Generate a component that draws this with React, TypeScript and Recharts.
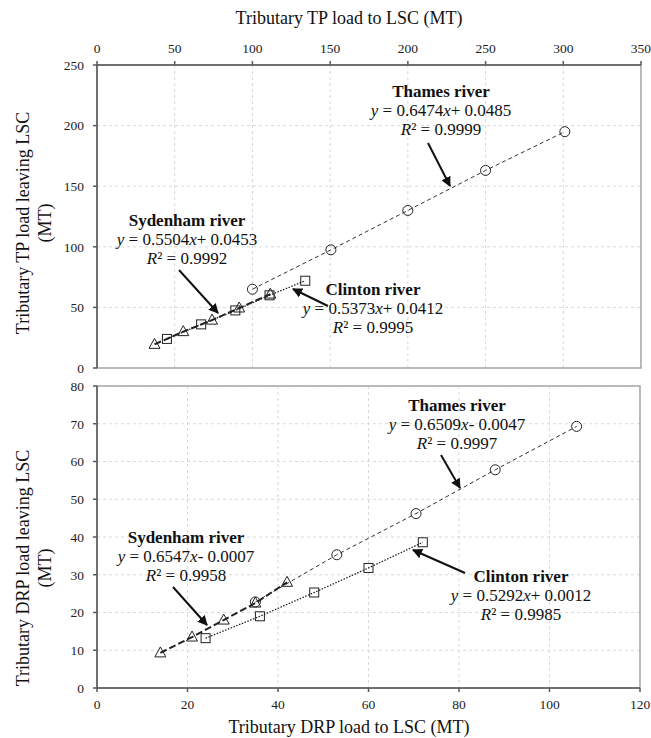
import React from "react";
import {
  CartesianGrid,
  ReferenceArea,
  Scatter,
  ScatterChart,
  XAxis,
  YAxis,
} from "recharts";

// TP loads (MT): x = load to LSC, y = load leaving LSC
const tpThames = [
  { x: 100, y: 65 },
  { x: 150.5, y: 97.5 },
  { x: 200, y: 130 },
  { x: 250, y: 163 },
  { x: 301, y: 195 },
];
const tpClinton = [
  { x: 45, y: 24 },
  { x: 67, y: 36 },
  { x: 89, y: 47.5 },
  { x: 111, y: 60 },
  { x: 134, y: 72 },
];
const tpSydenham = [
  { x: 37, y: 19.5 },
  { x: 55.5, y: 30 },
  { x: 74, y: 39.5 },
  { x: 91.5, y: 49.5 },
  { x: 111.5, y: 61 },
];

// DRP loads (MT)
const drpThames = [
  { x: 35, y: 22.8 },
  { x: 53, y: 35.3 },
  { x: 70.5, y: 46.2 },
  { x: 88, y: 57.8 },
  { x: 106, y: 69.3 },
];
const drpClinton = [
  { x: 24, y: 13.2 },
  { x: 36, y: 19 },
  { x: 48, y: 25.3 },
  { x: 60, y: 31.8 },
  { x: 72, y: 38.6 },
];
const drpSydenham = [
  { x: 14, y: 9.3 },
  { x: 21, y: 13.5 },
  { x: 28, y: 18 },
  { x: 35, y: 22.5 },
  { x: 42, y: 28 },
];

const tpXTicks = [0, 50, 100, 150, 200, 250, 300, 350];
const tpYTicks = [0, 50, 100, 150, 200, 250];
const drpXTicks = [0, 20, 40, 60, 80, 100, 120];
const drpYTicks = [0, 10, 20, 30, 40, 50, 60, 70, 80];

const FONT = "Liberation Serif, Times New Roman, serif";
const MARK = "#222";
const AXIS = "#595959";
const tick = { fontSize: 13.5, fill: "#222", fontFamily: FONT, style: { fontFamily: FONT } };

const Circle = (p: any) => (
  <circle cx={p.cx} cy={p.cy} r={5} fill="none" stroke={MARK} strokeWidth={1} />
);
const Square = (p: any) => (
  <rect x={p.cx - 4.5} y={p.cy - 4.5} width={9} height={9} fill="none" stroke={MARK} strokeWidth={1} />
);
const Triangle = (p: any) => (
  <polygon
    points={`${p.cx},${p.cy - 6} ${p.cx - 5.5},${p.cy + 4} ${p.cx + 5.5},${p.cy + 4}`}
    fill="none"
    stroke={MARK}
    strokeWidth={1}
  />
);

const thamesLine = { stroke: "#333", strokeWidth: 1, strokeDasharray: "4 3" };
const clintonLine = { stroke: "#222", strokeWidth: 1.3, strokeDasharray: "1.5 1.5" };
const sydenhamLine = { stroke: "#222", strokeWidth: 2, strokeDasharray: "7 3" };

function Annotation({
  x,
  y,
  title,
  slope,
  icpt,
  r2,
}: {
  x: number;
  y: number;
  title: string;
  slope: string;
  icpt: string;
  r2: string;
}) {
  return (
    <g style={{ fontFamily: FONT }} fontSize={17} fill="#111" textAnchor="middle">
      <text x={x} y={y} dominantBaseline="central" fontWeight="bold">
        {title}
      </text>
      <text x={x} y={y + 19} dominantBaseline="central">
        <tspan fontStyle="italic">y</tspan> = {slope}
        <tspan fontStyle="italic">x</tspan>
        {icpt}
      </text>
      <text x={x} y={y + 38} dominantBaseline="central">
        <tspan fontStyle="italic">R</tspan>² = {r2}
      </text>
    </g>
  );
}

function Arrow({ x1, y1, x2, y2 }: { x1: number; y1: number; x2: number; y2: number }) {
  return <line x1={x1} y1={y1} x2={x2} y2={y2} stroke="#111" strokeWidth={2} markerEnd="url(#head)" />;
}

export default function App() {
  return (
    <div
      style={{
        position: "absolute",
        left: 0,
        top: 0,
        width: 651,
        height: 738,
        background: "#fff",
        fontFamily: FONT,
      }}
    >
      <div style={{ position: "absolute", left: 0, top: 0 }}>
        <ScatterChart width={651} height={380} margin={{ top: 30, right: 10, bottom: 12, left: 0 }}>
          <CartesianGrid stroke="#d9d9d9" strokeDasharray="3 3" />
          <ReferenceArea x1={0} x2={350} y1={0} y2={250} fill="none" stroke="#a6a6a6" strokeWidth={1.5} ifOverflow="visible" />
          <XAxis
            type="number"
            dataKey="x"
            orientation="top"
            domain={[0, 350]}
            ticks={tpXTicks}
            height={35}
            stroke={AXIS}
            strokeWidth={1.5}
            tickSize={4}
            tickMargin={8}
            tick={tick}
          />
          <YAxis
            type="number"
            dataKey="y"
            domain={[0, 250]}
            ticks={tpYTicks}
            width={97}
            stroke={AXIS}
            strokeWidth={1.5}
            tickSize={4}
            tickMargin={9}
            tick={tick}
          />
          <Scatter data={tpThames} shape={Circle} line={thamesLine} isAnimationActive={false} />
          <Scatter data={tpClinton} shape={Square} line={clintonLine} isAnimationActive={false} />
          <Scatter data={tpSydenham} shape={Triangle} line={sydenhamLine} isAnimationActive={false} />
        </ScatterChart>
      </div>
      <div style={{ position: "absolute", left: 0, top: 376 }}>
        <ScatterChart width={651} height={362} margin={{ top: 10, right: 11, bottom: 20, left: 0 }}>
          <CartesianGrid stroke="#d9d9d9" strokeDasharray="3 3" />
          <ReferenceArea x1={0} x2={120} y1={0} y2={80} fill="none" stroke="#a6a6a6" strokeWidth={1.5} ifOverflow="visible" />
          <XAxis
            type="number"
            dataKey="x"
            domain={[0, 120]}
            ticks={drpXTicks}
            height={30}
            stroke={AXIS}
            strokeWidth={1.5}
            tickSize={4}
            tickMargin={7}
            tick={tick}
          />
          <YAxis
            type="number"
            dataKey="y"
            domain={[0, 80]}
            ticks={drpYTicks}
            width={97}
            stroke={AXIS}
            strokeWidth={1.5}
            tickSize={4}
            tickMargin={9}
            tick={tick}
          />
          <Scatter data={drpThames} shape={Circle} line={thamesLine} isAnimationActive={false} />
          <Scatter data={drpClinton} shape={Square} line={clintonLine} isAnimationActive={false} />
          <Scatter data={drpSydenham} shape={Triangle} line={sydenhamLine} isAnimationActive={false} />
        </ScatterChart>
      </div>
      <svg
        width={651}
        height={738}
        style={{ position: "absolute", left: 0, top: 0, pointerEvents: "none", fontFamily: FONT }}
      >
        <defs>
          <marker id="head" viewBox="0 0 10 10" refX="9" refY="5" markerWidth="5" markerHeight="5" orient="auto">
            <path d="M0,0 L10,5 L0,10 z" fill="#111" />
          </marker>
        </defs>
        <g fontSize={18} fill="#111" textAnchor="middle">
          <text x={349} y={18} dominantBaseline="central">Tributary TP load to LSC (MT)</text>
          <text x={349} y={727} dominantBaseline="central">Tributary DRP load to LSC (MT)</text>
          <text transform="translate(23,223) rotate(-90)" dominantBaseline="central">
            Tributary TP load leaving LSC
          </text>
          <text transform="translate(45,223) rotate(-90)" dominantBaseline="central">(MT)</text>
          <text transform="translate(23,568) rotate(-90)" dominantBaseline="central">
            Tributary DRP load leaving LSC
          </text>
          <text transform="translate(45,568) rotate(-90)" dominantBaseline="central">(MT)</text>
        </g>

        <Annotation x={441} y={91} title="Thames river" slope="0.6474" icpt="+ 0.0485" r2="0.9999" />
        <Arrow x1={428} y1={143} x2={450} y2={186} />
        <Annotation x={187} y={220} title="Sydenham river" slope="0.5504" icpt="+ 0.0453" r2="0.9992" />
        <Arrow x1={179} y1={270} x2={218} y2={313} />
        <Annotation x={373} y={289} title="Clinton river" slope="0.5373" icpt="+ 0.0412" r2="0.9995" />
        <Arrow x1={328} y1={306} x2={293} y2={289} />

        <Annotation x={457} y={405} title="Thames river" slope="0.6509" icpt="- 0.0047" r2="0.9997" />
        <Arrow x1={441} y1={455} x2={460} y2={488} />
        <Annotation x={186} y={537} title="Sydenham river" slope="0.6547" icpt="- 0.0007" r2="0.9958" />
        <Arrow x1={173} y1={587} x2={207} y2={625} />
        <Annotation x={521} y={576} title="Clinton river" slope="0.5292" icpt="+ 0.0012" r2="0.9985" />
        <Arrow x1={465} y1={573} x2={413} y2={550} />
      </svg>
    </div>
  );
}
